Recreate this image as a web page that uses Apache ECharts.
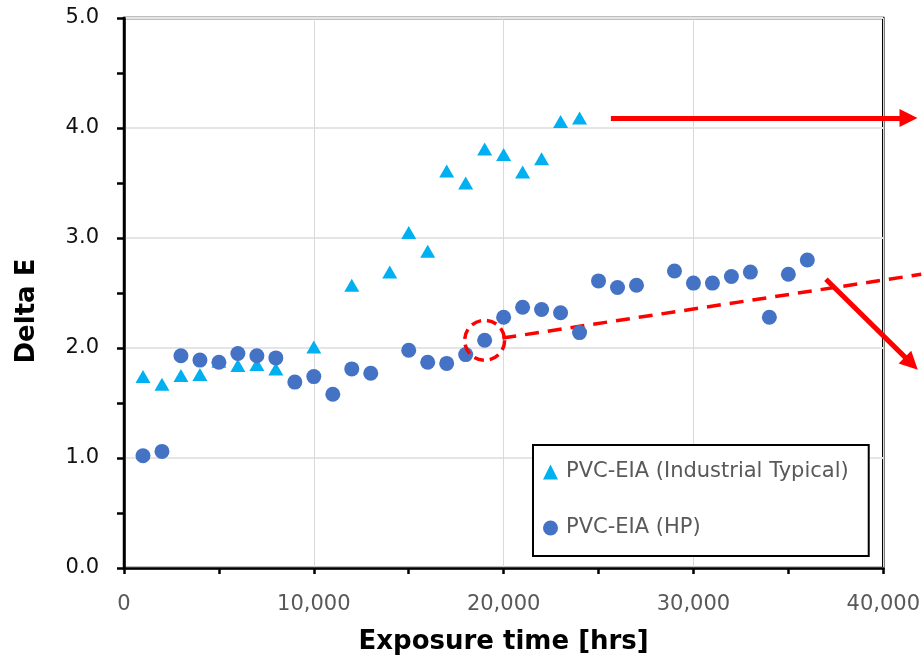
<!DOCTYPE html>
<html>
<head>
<meta charset="utf-8">
<title>Delta E vs exposure time</title>
<script src="https://cdn.jsdelivr.net/npm/echarts@6/dist/echarts.min.js"></script>
<style>
    html, body { margin: 0; padding: 0; background: #fff; }
    #main { width: 923px; height: 663px; }
</style>
</head>
<body>
<div id="main"></div>
<script>
// 数据 (hrs, Delta E)
var industrialHours = [1000, 2000, 3000, 4000, 5000, 6000, 7000, 8000, 10000, 12000, 14000,
    15000, 16000, 17000, 18000, 19000, 20000, 21000, 22000, 23000, 24000];
var industrialDeltaE = [1.74, 1.67, 1.75, 1.76, 1.88, 1.84, 1.85, 1.81, 2.01, 2.57, 2.69,
    3.05, 2.88, 3.61, 3.50, 3.81, 3.76, 3.60, 3.72, 4.06, 4.09];

var hpHours = [1000, 2000, 3000, 4000, 5000, 6000, 7000, 8000, 9000, 10000, 11000, 12000, 13000,
    15000, 16000, 17000, 18000, 19000, 20000, 21000, 22000, 23000, 24000, 25000, 26000, 27000,
    29000, 30000, 31000, 32000, 33000, 34000, 35000, 36000];
var hpDeltaE = [1.02, 1.06, 1.93, 1.89, 1.87, 1.95, 1.93, 1.91, 1.69, 1.74, 1.58, 1.81, 1.77,
    1.98, 1.87, 1.86, 1.94, 2.07, 2.28, 2.37, 2.35, 2.32, 2.14, 2.61, 2.55, 2.57,
    2.70, 2.59, 2.59, 2.65, 2.69, 2.28, 2.67, 2.80];

var xTicks = [0, 10000, 20000, 30000, 40000];
var yTicks = [0, 1, 2, 3, 4, 5];

// 红色标注
var markedPoint = [19000, 2.07];
var trendLine = [[19930, 2.09], [42000, 2.67]];
var flatArrow = [[25650, 4.09], [41330, 4.09]];
var dropArrow = [[36980, 2.625], [41480, 1.86]];

var seriesNames = ['PVC-EIA (Industrial Typical)', 'PVC-EIA (HP)'];
var FONT = 'DejaVu Sans';

function zipPoints(xs, ys) {
    var out = [];
    for (var i = 0; i < xs.length; i++) {
        out.push([xs[i], ys[i]]);
    }
    return out;
}

var myChart = echarts.init(document.getElementById('main'));

var option = {
    animation: false,
    backgroundColor: '#fff',
    grid: {
        left: 124,
        right: 38,
        top: 18,
        bottom: 95,
        show: true,
        borderColor: '#000',
        borderWidth: 2.5
    },
    legend: {
        data: seriesNames,
        orient: 'vertical',
        left: 533,
        top: 445,
        backgroundColor: '#fff',
        borderColor: '#000',
        borderWidth: 2,
        padding: [16, 20, 17, 10],
        itemGap: 34,
        itemWidth: 15,
        itemHeight: 15,
        selectedMode: false,
        textStyle: {
            fontFamily: FONT,
            fontSize: 21,
            lineHeight: 22,
            color: '#595959',
            padding: [0, 0, 0, 3]
        }
    },
    xAxis: {
        type: 'value',
        min: xTicks[0],
        max: xTicks[xTicks.length - 1],
        interval: 10000,
        name: 'Exposure time [hrs]',
        nameLocation: 'middle',
        nameGap: 61,
        nameTextStyle: { fontFamily: FONT, fontSize: 26, fontWeight: 'bold', color: '#000' },
        axisLine: { lineStyle: { color: '#000', width: 2.5 } },
        axisTick: { show: true, length: 6, lineStyle: { color: '#000', width: 2.5 } },
        minorTick: { show: true, splitNumber: 2, length: 6, lineStyle: { color: '#000', width: 2.5 } },
        axisLabel: {
            fontFamily: FONT,
            fontSize: 21,
            color: '#595959',
            margin: 26,
            formatter: function (v) { return v.toLocaleString('en-US'); }
        },
        splitLine: { show: true, lineStyle: { color: '#d9d9d9', width: 1 } }
    },
    yAxis: {
        type: 'value',
        min: yTicks[0],
        max: yTicks[yTicks.length - 1],
        interval: 1,
        name: 'Delta E',
        nameLocation: 'middle',
        nameRotate: 90,
        nameGap: 84,
        nameTextStyle: {
            fontFamily: FONT, fontSize: 26, fontWeight: 'bold', color: '#000',
            padding: [0, 36, 0, 0]
        },
        axisLine: { show: true, lineStyle: { color: '#000', width: 2.5 } },
        axisTick: { show: true, length: 7, lineStyle: { color: '#000', width: 2.5 } },
        minorTick: { show: true, splitNumber: 2, length: 7, lineStyle: { color: '#000', width: 2.5 } },
        axisLabel: {
            fontFamily: FONT,
            fontSize: 21,
            color: '#111',
            margin: 25,
            formatter: function (v) { return v.toFixed(1); }
        },
        splitLine: { show: true, lineStyle: { color: '#e5e5e5', width: 2 } }
    },
    series: [{
        name: seriesNames[0],
        type: 'scatter',
        symbol: 'triangle',
        symbolSize: [15, 13],
        itemStyle: { color: '#00B0F0', opacity: 1 },
        data: zipPoints(industrialHours, industrialDeltaE),
        z: 3
    }, {
        name: 'trend',
        type: 'lines',
        coordinateSystem: 'cartesian2d',
        clip: false,
        symbol: ['none', 'none'],
        lineStyle: { color: '#ff0000', width: 3.5, type: [14, 9], opacity: 1 },
        data: [{ coords: trendLine }],
        z: 2
    }, {
        name: seriesNames[1],
        type: 'scatter',
        symbol: 'circle',
        symbolSize: 15,
        itemStyle: { color: '#4472C4', opacity: 1 },
        data: zipPoints(hpHours, hpDeltaE),
        z: 4
    }, {
        name: 'marked',
        type: 'scatter',
        symbol: 'circle',
        symbolSize: 40,
        silent: true,
        itemStyle: {
            color: 'rgba(0,0,0,0)',
            borderColor: '#ff0000',
            borderWidth: 3.5,
            borderType: [10, 6],
            opacity: 1
        },
        data: [markedPoint],
        z: 5
    }, {
        name: 'arrows',
        type: 'lines',
        coordinateSystem: 'cartesian2d',
        clip: false,
        symbol: ['none', 'triangle'],
        symbolSize: [17, 18],
        lineStyle: { color: '#ff0000', width: 5, opacity: 1 },
        itemStyle: { color: '#ff0000' },
        data: [{ coords: flatArrow }, { coords: dropArrow }],
        z: 6
    }]
};

myChart.setOption(option);
</script>
</body>
</html>
